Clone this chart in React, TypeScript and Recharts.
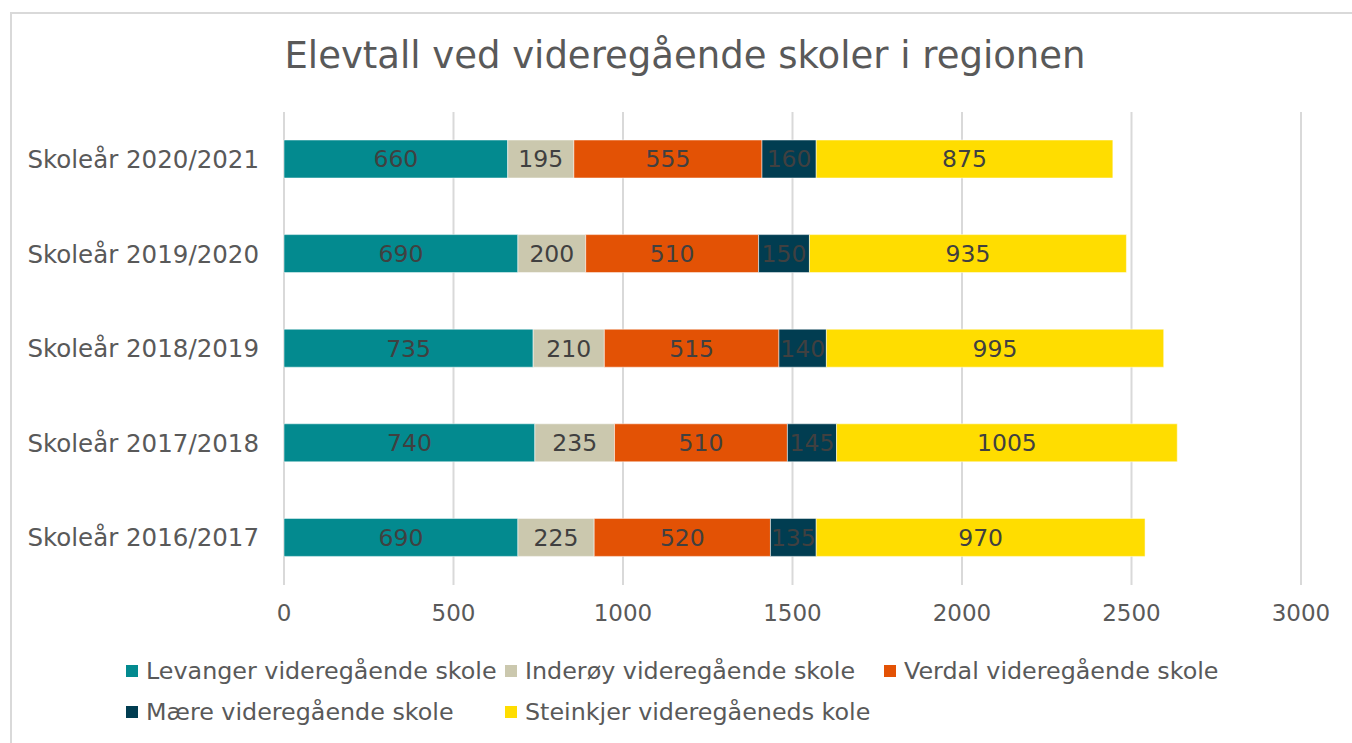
import { BarChart, Bar, XAxis, YAxis, CartesianGrid, LabelList } from 'recharts'

const years = ['Skoleår 2020/2021', 'Skoleår 2019/2020', 'Skoleår 2018/2019', 'Skoleår 2017/2018', 'Skoleår 2016/2017']

const levanger = [660, 690, 735, 740, 690]
const inderoy = [195, 200, 210, 235, 225]
const verdal = [555, 510, 515, 510, 520]
const maere = [160, 150, 140, 145, 135]
const steinkjer = [875, 935, 995, 1005, 970]

const xTicks = [0, 500, 1000, 1500, 2000, 2500, 3000]

const series = [
  { key: 'levanger', name: 'Levanger videregående skole', color: '#038a8f', values: levanger },
  { key: 'inderoy', name: 'Inderøy videregående skole', color: '#cbc8ae', values: inderoy },
  { key: 'verdal', name: 'Verdal videregående skole', color: '#e35205', values: verdal },
  { key: 'maere', name: 'Mære videregående skole', color: '#013d51', values: maere },
  { key: 'steinkjer', name: 'Steinkjer videregåeneds kole', color: '#ffdd00', values: steinkjer },
]

// legend positions (column x, row y) like the original layout
const legendSlots = [
  { left: 126, top: 656 },
  { left: 505, top: 656 },
  { left: 884, top: 656 },
  { left: 126, top: 697 },
  { left: 505, top: 697 },
]

const data = years.map((year, i) => {
  const row: Record<string, string | number> = { year }
  series.forEach((s) => {
    row[s.key] = s.values[i]
  })
  return row
})

const font = 'DejaVu Sans, Verdana, sans-serif'
const textColor = '#595959'

export default function App() {
  return (
    <div
      style={{
        position: 'absolute',
        left: 0,
        top: 0,
        width: 1352,
        height: 743,
        background: '#fff',
        overflow: 'hidden',
        fontFamily: font,
      }}
    >
      <div
        style={{
          position: 'absolute',
          left: 10,
          top: 12,
          width: 1400,
          height: 800,
          border: '2px solid #d9d9d9',
        }}
      />
      <div
        style={{
          position: 'absolute',
          left: 0,
          top: 33,
          width: 1370,
          textAlign: 'center',
          fontSize: 37,
          color: textColor,
          lineHeight: '46px',
        }}
      >
        Elevtall ved videregående skoler i regionen
      </div>

      <BarChart
        width={1352}
        height={743}
        data={data}
        layout="vertical"
        margin={{ top: 112, right: 51, left: 0, bottom: 0 }}
        style={{ position: 'absolute', left: 0, top: 0 }}
      >
        <CartesianGrid horizontal={false} stroke="#d9d9d9" strokeWidth={2} />
        <XAxis
          type="number"
          domain={[0, 3000]}
          ticks={xTicks}
          height={158}
          axisLine={false}
          tickLine={false}
          tickSize={0}
          tickMargin={20}
          tick={{ fontSize: 23, fill: textColor, fontFamily: font }}
        />
        <YAxis
          type="category"
          dataKey="year"
          width={284}
          axisLine={false}
          tickLine={false}
          tickSize={0}
          tickMargin={25}
          tick={{ fontSize: 24.5, fill: textColor, fontFamily: font }}
        />
        {series.map((s) => (
          <Bar
            key={s.key}
            dataKey={s.key}
            name={s.name}
            stackId="a"
            fill={s.color}
            barSize={38}
            stroke="#ffffff"
            strokeOpacity={0.5}
            strokeWidth={1}
            isAnimationActive={false}
          >
            <LabelList
              dataKey={s.key}
              position="center"
              fill="#404040"
              fontSize={23.5}
              fontFamily={font}
            />
          </Bar>
        ))}
      </BarChart>

      {series.map((s, i) => (
        <div
          key={s.key}
          style={{
            position: 'absolute',
            left: legendSlots[i].left,
            top: legendSlots[i].top,
            height: 30,
            display: 'flex',
            alignItems: 'center',
            fontSize: 23.8,
            color: textColor,
            whiteSpace: 'nowrap',
          }}
        >
          <span style={{ display: 'inline-block', width: 12, height: 12, background: s.color, marginRight: 8 }} />
          {s.name}
        </div>
      ))}
    </div>
  )
}
